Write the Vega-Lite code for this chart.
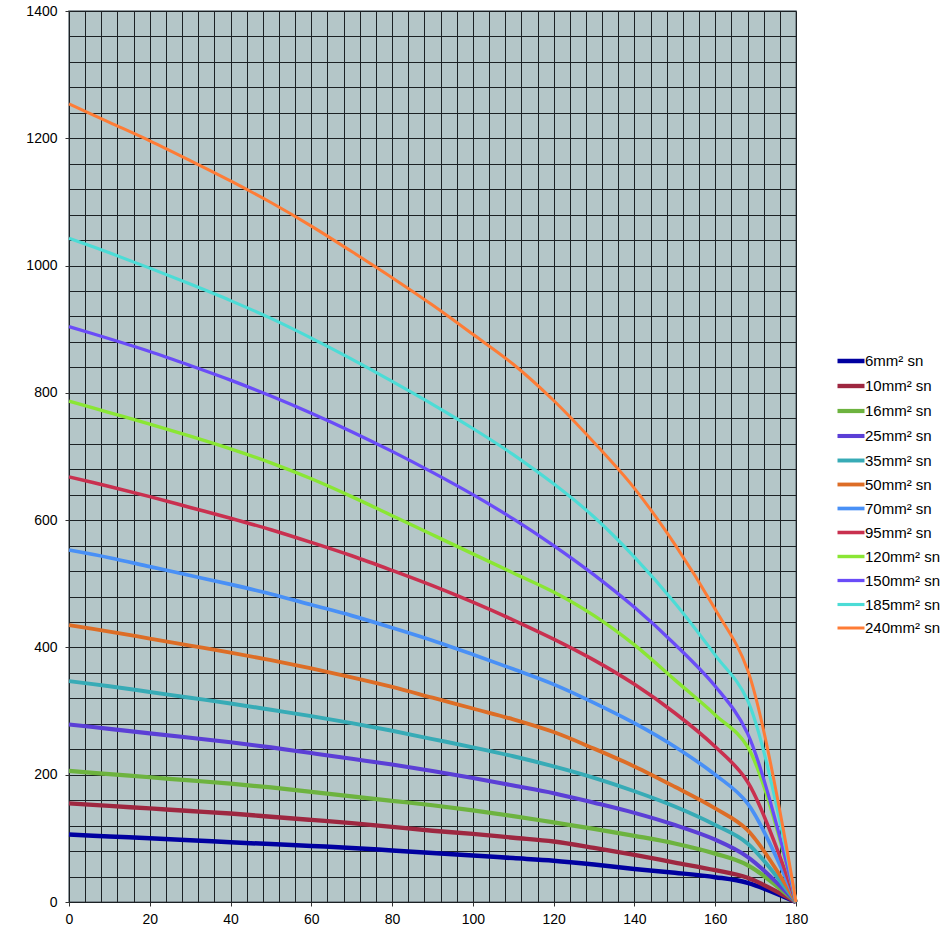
{
  "$schema": "https://vega.github.io/schema/vega-lite/v6.json",
  "width": 727,
  "height": 891,
  "autosize": {"type": "none"},
  "padding": {"left": 69, "top": 11, "right": 152, "bottom": 34},
  "background": "white",
  "config": {
    "font": "Liberation Sans",
    "view": {"fill": "#b4c6c8", "stroke": "#6e7a80", "strokeWidth": 1.5}
  },
  "datasets": {
    "wide": [
      {"x": 0, "a": 106, "b": 155, "c": 206, "d": 279, "e": 347, "f": 435, "g": 553, "h": 668, "i": 787, "j": 904, "k": 1043, "l": 1254},
      {"x": 10, "a": 103, "b": 151, "c": 201, "d": 272, "e": 339, "f": 425, "g": 541, "h": 653, "i": 769, "j": 885, "k": 1020, "l": 1225},
      {"x": 20, "a": 100, "b": 147, "c": 196, "d": 265, "e": 330, "f": 414, "g": 527, "h": 637, "i": 751, "j": 865, "k": 996, "l": 1196},
      {"x": 30, "a": 97, "b": 143, "c": 191, "d": 258, "e": 321, "f": 403, "g": 513, "h": 620, "i": 732, "j": 843, "k": 971, "l": 1165},
      {"x": 40, "a": 94, "b": 139, "c": 186, "d": 251, "e": 312, "f": 392, "g": 499, "h": 603, "i": 712, "j": 820, "k": 945, "l": 1133},
      {"x": 50, "a": 91, "b": 134, "c": 180, "d": 243, "e": 302, "f": 380, "g": 484, "h": 585, "i": 690, "j": 795, "k": 917, "l": 1099},
      {"x": 60, "a": 88, "b": 129, "c": 173, "d": 234, "e": 292, "f": 367, "g": 467, "h": 565, "i": 665, "j": 768, "k": 886, "l": 1062},
      {"x": 70, "a": 85, "b": 124, "c": 166, "d": 225, "e": 281, "f": 353, "g": 450, "h": 544, "i": 637, "j": 739, "k": 853, "l": 1022},
      {"x": 80, "a": 81, "b": 118, "c": 159, "d": 216, "e": 269, "f": 338, "g": 431, "h": 521, "i": 607, "j": 708, "k": 818, "l": 981},
      {"x": 90, "a": 77, "b": 112, "c": 152, "d": 206, "e": 256, "f": 321, "g": 411, "h": 497, "i": 577, "j": 675, "k": 782, "l": 938},
      {"x": 100, "a": 73, "b": 107, "c": 144, "d": 195, "e": 243, "f": 304, "g": 389, "h": 471, "i": 547, "j": 640, "k": 744, "l": 892},
      {"x": 110, "a": 69, "b": 101, "c": 135, "d": 183, "e": 229, "f": 287, "g": 366, "h": 443, "i": 517, "j": 602, "k": 703, "l": 845},
      {"x": 120, "a": 65, "b": 95, "c": 125, "d": 171, "e": 213, "f": 267, "g": 342, "h": 413, "i": 487, "j": 560, "k": 657, "l": 788},
      {"x": 130, "a": 59, "b": 85, "c": 115, "d": 156, "e": 195, "f": 241, "g": 313, "h": 380, "i": 450, "j": 514, "k": 605, "l": 722},
      {"x": 140, "a": 52, "b": 74, "c": 104, "d": 140, "e": 174, "f": 213, "g": 281, "h": 342, "i": 404, "j": 463, "k": 542, "l": 650},
      {"x": 150, "a": 46, "b": 62, "c": 92, "d": 121, "e": 150, "f": 181, "g": 244, "h": 297, "i": 349, "j": 405, "k": 470, "l": 562},
      {"x": 160, "a": 39, "b": 50, "c": 76, "d": 98, "e": 121, "f": 147, "g": 200, "h": 244, "i": 294, "j": 339, "k": 388, "l": 460},
      {"x": 168, "a": 30, "b": 38, "c": 58, "d": 71, "e": 92, "f": 113, "g": 155, "h": 189, "i": 244, "j": 265, "k": 317, "l": 365},
      {"x": 180, "a": 0, "b": 0, "c": 0, "d": 0, "e": 0, "f": 0, "g": 0, "h": 0, "i": 0, "j": 0, "k": 0, "l": 0}
    ],
    "names": [
      {"key": "a", "s": "6mm² sn"},
      {"key": "b", "s": "10mm² sn"},
      {"key": "c", "s": "16mm² sn"},
      {"key": "d", "s": "25mm² sn"},
      {"key": "e", "s": "35mm² sn"},
      {"key": "f", "s": "50mm² sn"},
      {"key": "g", "s": "70mm² sn"},
      {"key": "h", "s": "95mm² sn"},
      {"key": "i", "s": "120mm² sn"},
      {"key": "j", "s": "150mm² sn"},
      {"key": "k", "s": "185mm² sn"},
      {"key": "l", "s": "240mm² sn"}
    ]
  },
  "data": {"name": "wide"},
  "transform": [
    {"fold": ["a", "b", "c", "d", "e", "f", "g", "h", "i", "j", "k", "l"], "as": ["key", "y"]},
    {"lookup": "key", "from": {"data": {"name": "names"}, "key": "key", "fields": ["s"]}}
  ],
  "mark": {"type": "line", "interpolate": "catmull-rom"},
  "encoding": {
    "x": {
      "field": "x", "type": "quantitative",
      "scale": {"domain": [0, 180], "nice": false, "zero": true},
      "axis": {
        "title": null,
        "values": [0,4,8,12,16,20,24,28,32,36,40,44,48,52,56,60,64,68,72,76,80,84,88,92,96,100,104,108,112,116,120,124,128,132,136,140,144,148,152,156,160,164,168,172,176,180],
        "grid": true, "gridColor": "#1c2124", "gridWidth": 1, "gridOpacity": 1,
        "domain": false,
        "tickColor": "#333333", "tickSize": 4,
        "tickOpacity": {"expr": "datum.value % 20 === 0 ? 1 : 0"},
        "labelExpr": "datum.value % 20 === 0 ? datum.label : ''",
        "format": "d",
        "labelFontSize": 14, "labelColor": "#000000", "labelPadding": 6,
        "labelOverlap": false, "labelFlush": false
      }
    },
    "y": {
      "field": "y", "type": "quantitative",
      "scale": {"domain": [0, 1400], "nice": false},
      "axis": {
        "title": null,
        "values": [0,40,80,120,160,200,240,280,320,360,400,440,480,520,560,600,640,680,720,760,800,840,880,920,960,1000,1040,1080,1120,1160,1200,1240,1280,1320,1360,1400],
        "grid": true, "gridColor": "#1c2124", "gridWidth": 1, "gridOpacity": 1,
        "domain": false,
        "tickColor": "#333333", "tickSize": 4,
        "tickOpacity": {"expr": "datum.value % 200 === 0 ? 1 : 0"},
        "labelExpr": "datum.value % 200 === 0 ? datum.label : ''",
        "format": "d",
        "labelFontSize": 14, "labelColor": "#000000", "labelPadding": 8,
        "labelOverlap": false, "labelFlush": false
      }
    },
    "color": {
      "field": "s", "type": "nominal",
      "scale": {
        "domain": ["6mm² sn","10mm² sn","16mm² sn","25mm² sn","35mm² sn","50mm² sn","70mm² sn","95mm² sn","120mm² sn","150mm² sn","185mm² sn","240mm² sn"],
        "range": ["#0000a0","#9e2740","#6db33f","#5b3fd6","#37abb6","#dd6d26","#4990f6","#c9304f","#8ae634","#6a4cf8","#4cdcd6","#fe7c36"]
      },
      "legend": {
        "title": null, "orient": "none", "legendX": 766, "legendY": 334,
        "symbolType": "stroke", "symbolSize": 729,
        "labelFontSize": 15, "labelColor": "#000000", "labelOffset": -2,
        "rowPadding": -0.2, "padding": 0
      }
    },
    "strokeWidth": {
      "field": "s", "type": "nominal",
      "scale": {
        "domain": ["6mm² sn","10mm² sn","16mm² sn","25mm² sn","35mm² sn","50mm² sn","70mm² sn","95mm² sn","120mm² sn","150mm² sn","185mm² sn","240mm² sn"],
        "range": [4.5, 3, 3, 3, 3, 3, 3, 3, 3, 3, 3, 3]
      },
      "legend": {
        "title": null, "orient": "none", "legendX": 766, "legendY": 334,
        "symbolType": "stroke", "symbolSize": 729,
        "labelFontSize": 15, "labelColor": "#000000", "labelOffset": -2,
        "rowPadding": -0.2, "padding": 0
      }
    }
  }
}
